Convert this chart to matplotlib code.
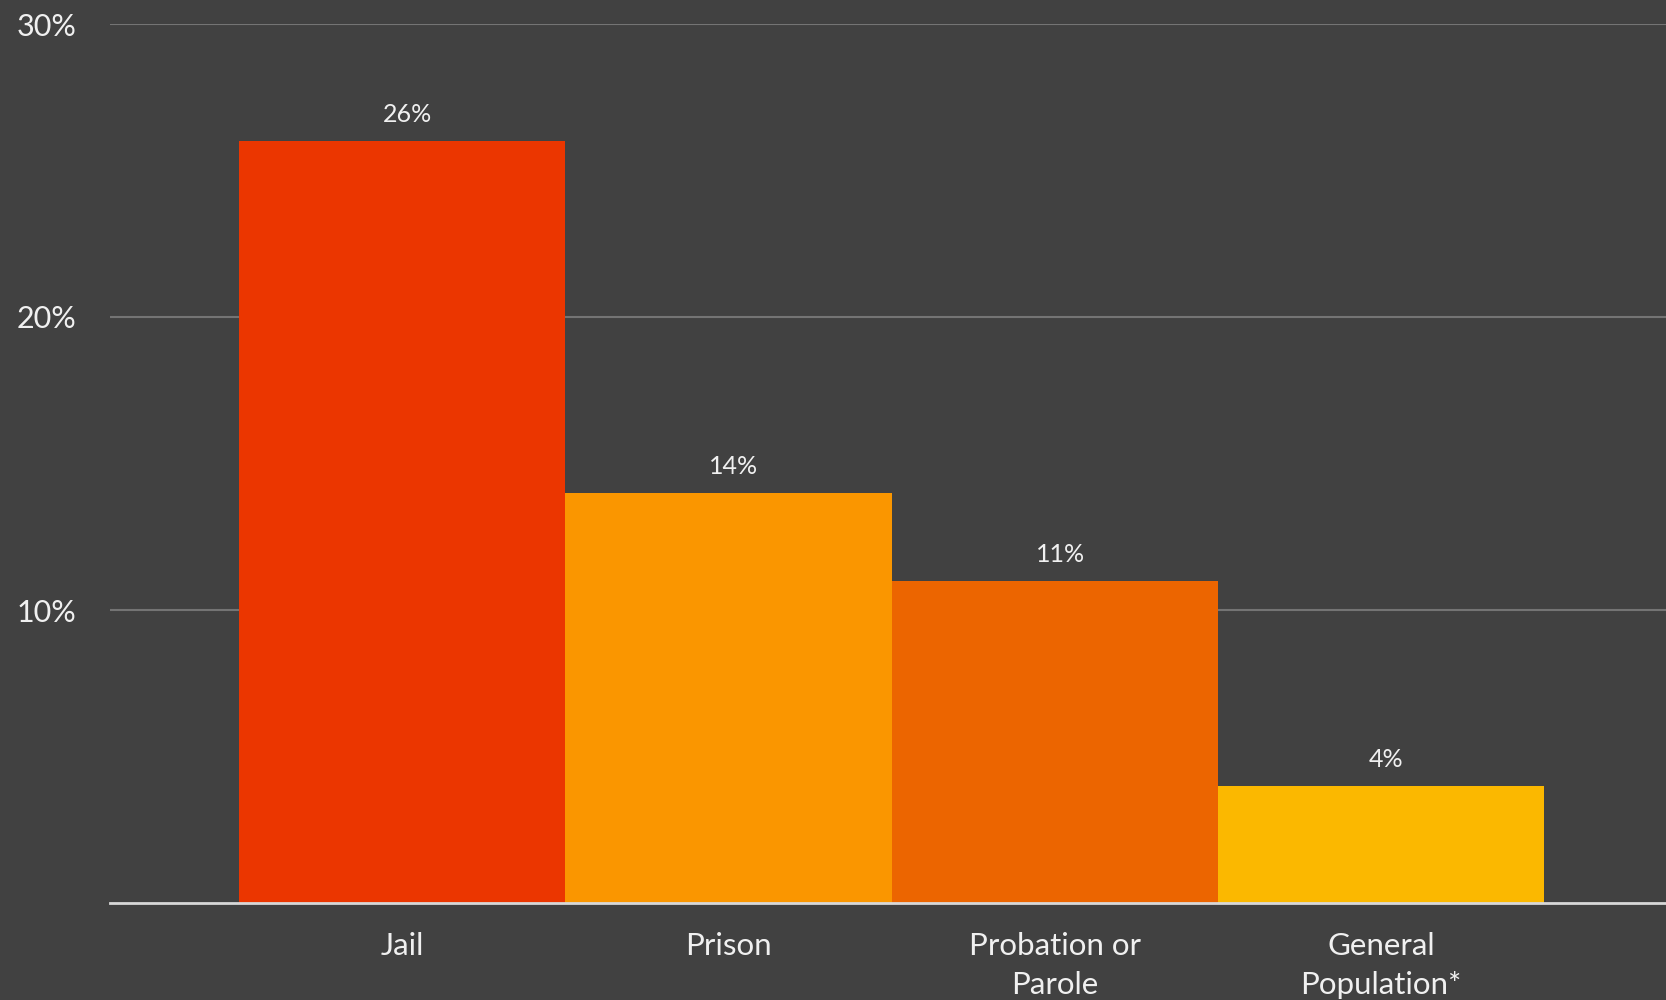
import matplotlib
matplotlib.use("Agg")
import matplotlib.pyplot as plt

categories = ["Jail", "Prison", "Probation or\nParole", "General\nPopulation*"]
values = [26, 14, 11, 4]
value_labels = ["26%", "14%", "11%", "4%"]
colors = ["#EB3600", "#FA9600", "#EC6500", "#FBB800"]
yticks = [10, 20, 30]
ytick_labels = ["10%", "20%", "30%"]

plt.rcParams['font.family'] = ['Lato', 'DejaVu Sans']

bg = "#414141"
fig = plt.figure(figsize=(16.66, 10), dpi=100, facecolor=bg)
ax = fig.add_axes([0.066, 0.097, 0.934, 0.879], facecolor=bg)

x = list(range(len(categories)))
bars = ax.bar(x, values, width=1.0, color=colors, zorder=3, linewidth=0)

ax.set_ylim(0, 30)
ax.set_xlim(-0.896, 3.874)
ax.set_yticks(yticks)
ax.set_yticklabels(ytick_labels)
ax.yaxis.grid(True, color="#747474", linewidth=1.5, zorder=0)
ax.set_axisbelow(True)
ax.set_xticks(x)
ax.set_xticklabels(categories, linespacing=1.45)

for s in ["top", "right", "left"]:
    ax.spines[s].set_visible(False)
ax.spines["bottom"].set_color("#d8d8d8")
ax.spines["bottom"].set_linewidth(2)
ax.spines["bottom"].set_zorder(4)

ax.tick_params(axis="both", length=0)
ax.tick_params(axis="y", colors="#f0f0f0", labelsize=22, pad=24)
ax.tick_params(axis="x", colors="#f0f0f0", labelsize=22.5, pad=21)
for lbl in ax.get_xticklabels():
    lbl.set_verticalalignment("top")

for xi, v, lab in zip(x, values, value_labels):
    ax.annotate(lab, (xi, v), xytext=(4, 19), textcoords="offset points",
                ha="center", va="center", color="#f0f0f0", fontsize=18)

fig.savefig("out.png", dpi=100, facecolor=bg)
